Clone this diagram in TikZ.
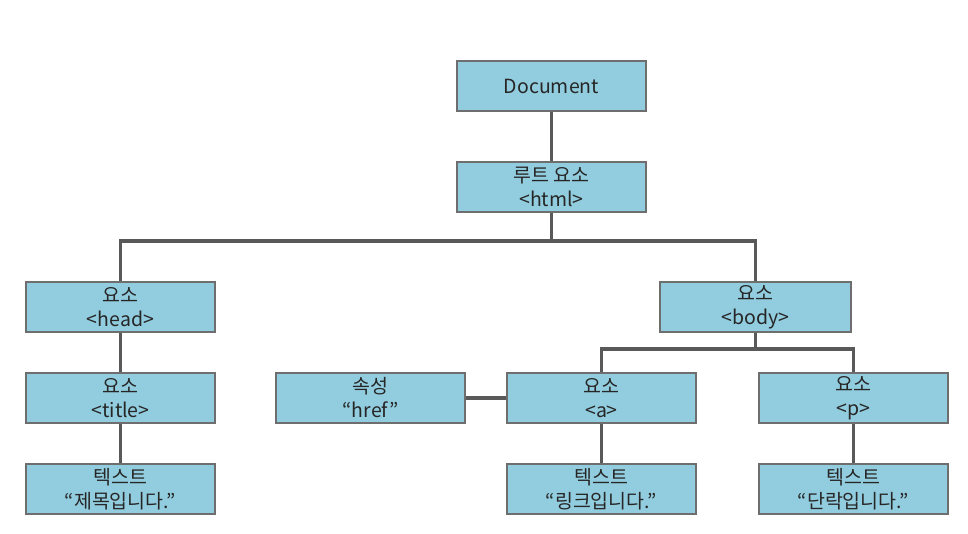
\documentclass[tikz,border=0pt]{standalone}
\usepackage{fontspec}
\setmainfont{Noto Sans CJK KR}
\definecolor{boxfill}{HTML}{92CDDF}
\definecolor{boxline}{HTML}{6E6E6E}
\definecolor{conn}{HTML}{595959}
\begin{document}
\begin{tikzpicture}[x=1pt,y=1pt,
  box/.style={draw=boxline,fill=boxfill,line width=1.2pt,minimum width=189pt,minimum height=50pt,
    inner sep=0pt,align=center,font=\fontsize{19.5}{24}\selectfont,text=black!85},
  link/.style={draw=conn,line width=3.5pt}]
\useasboundingbox (0,0) rectangle (968,534);
\coordinate (hbar) at (551.5,293);
\coordinate (bbar) at (755.5,185);
\node[box] (doc) at (551.5,448) {Document};
\node[box] (html) at (551.5,347) {루트 요소\\<html>};
\node[box] (head) at (120.5,227) {요소\\<head>};
\node[box,minimum width=191pt] (body) at (755.5,227) {요소\\<body>};
\node[box] (title) at (120.5,136) {요소\\<title>};
\node[box] (t1) at (120.5,45) {텍스트\\“제목입니다.”};
\node[box] (href) at (370.5,136) {속성\\“href”};
\node[box] (a) at (601.5,136) {요소\\<a>};
\node[box] (p) at (853.5,136) {요소\\<p>};
\node[box] (t2) at (601.5,45) {텍스트\\“링크입니다.”};
\node[box] (t3) at (853.5,45) {텍스트\\“단락입니다.”};
\draw[link] (doc) -- (html);
\draw[link] (html.south) -- (hbar) -| (head.north);
\draw[link] (hbar) -| (body.north);
\draw[link] (head) -- (title);
\draw[link] (title) -- (t1);
\draw[link] (body.south) -- (bbar) -| (a.north);
\draw[link] (bbar) -| (p.north);
\draw[link] (href) -- (a);
\draw[link] (a) -- (t2);
\draw[link] (p) -- (t3);
\end{tikzpicture}
\end{document}
